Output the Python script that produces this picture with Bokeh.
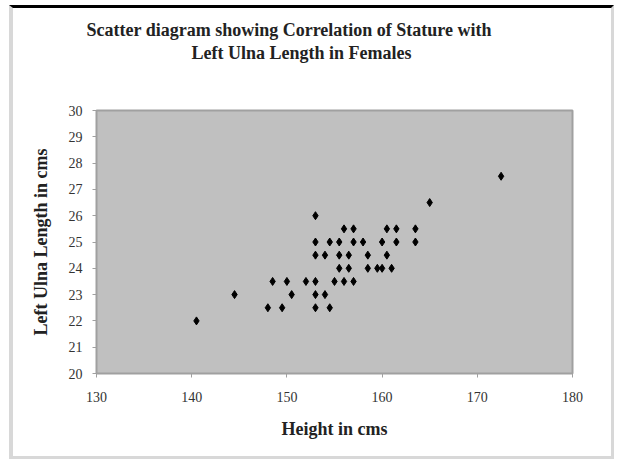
from bokeh.plotting import figure
from bokeh.models import Title, FixedTicker, Range1d
from bokeh.embed import file_html
from bokeh.resources import INLINE

title_line1 = "Scatter diagram showing Correlation of Stature with"
title_line2 = "Left Ulna Length in Females"
x_label = "Height in cms"
y_label = "Left Ulna Length in cms"

x_ticks = [130, 140, 150, 160, 170, 180]
y_ticks = [20, 21, 22, 23, 24, 25, 26, 27, 28, 29, 30]

height_cm = [140.5, 144.5,
             148, 149.5, 153, 154.5,
             150.5, 153, 154,
             148.5, 150, 152, 153, 155, 156, 157,
             155.5, 156.5, 158.5, 159.5, 160, 161,
             153, 154, 155.5, 156.5, 158.5, 160.5,
             153, 154.5, 155.5, 157, 158, 160, 161.5, 163.5,
             156, 157, 160.5, 161.5, 163.5,
             153, 165, 172.5]
ulna_cm = [22, 23,
           22.5, 22.5, 22.5, 22.5,
           23, 23, 23,
           23.5, 23.5, 23.5, 23.5, 23.5, 23.5, 23.5,
           24, 24, 24, 24, 24, 24,
           24.5, 24.5, 24.5, 24.5, 24.5, 24.5,
           25, 25, 25, 25, 25, 25, 25, 25,
           25.5, 25.5, 25.5, 25.5, 25.5,
           26, 26.5, 27.5]

SERIF = "Liberation Serif"

p = figure(width=605, height=454, output_backend="svg", toolbar_location=None,
           x_range=Range1d(x_ticks[0], x_ticks[-1]), y_range=Range1d(y_ticks[0], y_ticks[-1]),
           min_border_left=83, min_border_right=46, min_border_top=102, min_border_bottom=89,
           background_fill_color="#c0c0c0", border_fill_color="white",
           styles={"border-top": "3px solid black", "border-left": "4px solid #d8d8d8",
                   "border-right": "3px solid #d8d8d8", "border-bottom": "3px solid #d8d8d8",
                   "margin-left": "9px", "margin-top": "5px"})
p.title = None
p.outline_line_color = "#a0a0a0"
p.outline_line_width = 2

# spacer between plot area and the title
p.add_layout(Title(text=" ", align="left", standoff=44, text_font_size="1px"), "above")
p.add_layout(Title(text=title_line2, align="left", offset=95, standoff=2,
                   text_font=SERIF, text_font_size="18px", text_font_style="bold",
                   text_color="#222222"), "above")
p.add_layout(Title(text=title_line1, align="left", offset=-10, standoff=0,
                   text_font=SERIF, text_font_size="18px", text_font_style="bold",
                   text_color="#222222"), "above")

p.scatter(height_cm, ulna_cm, marker="diamond", size=8, fill_color="black", line_color="black")

p.xgrid.grid_line_color = None
p.ygrid.grid_line_color = None

for ax in (p.xaxis[0], p.yaxis[0]):
    ax.axis_line_color = "#a0a0a0"
    ax.major_tick_line_color = "#a0a0a0"
    ax.major_tick_in = 0
    ax.major_tick_out = 4
    ax.minor_tick_line_color = None
    ax.major_label_text_font = SERIF
    ax.major_label_text_font_size = "14px"
    ax.major_label_text_color = "#333333"
    ax.axis_label_text_font = SERIF
    ax.axis_label_text_font_size = "18px"
    ax.axis_label_text_font_style = "bold"
    ax.axis_label_text_color = "#222222"

p.xaxis.ticker = FixedTicker(ticks=x_ticks)
p.yaxis.ticker = FixedTicker(ticks=y_ticks)
p.xaxis.axis_label = x_label
p.yaxis.axis_label = y_label
p.xaxis.major_label_standoff = 14
p.yaxis.major_label_standoff = 10
p.xaxis.axis_label_standoff = 14
p.yaxis.axis_label_standoff = 15

open("out.html", "w").write(file_html(p, INLINE))
